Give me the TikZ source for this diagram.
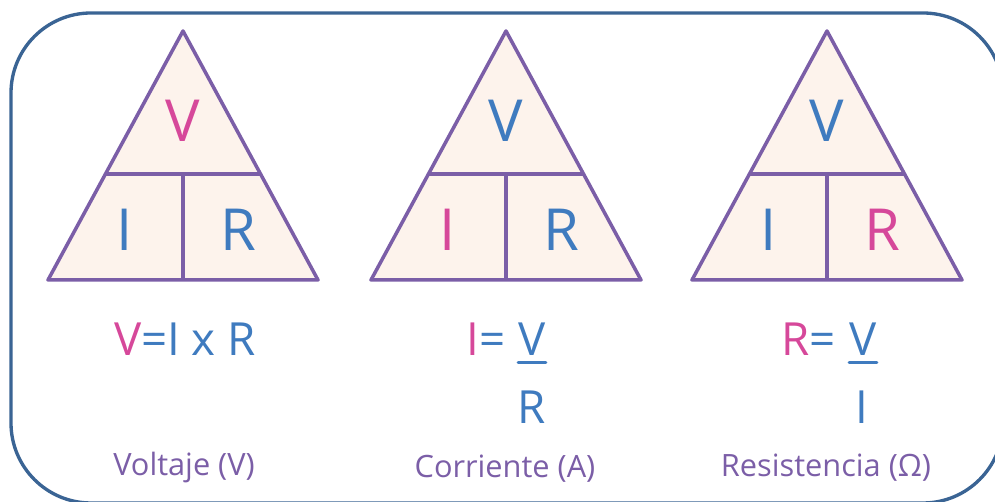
\documentclass[tikz,border=0pt]{standalone}
\usepackage{fontspec}
\setmainfont{Open Sans}

\definecolor{framecol}{HTML}{3A6494}
\definecolor{tricol}{HTML}{7B5EA7}
\definecolor{trifill}{HTML}{FDF3EC}
\definecolor{pinkcol}{HTML}{D6489A}
\definecolor{bluecol}{HTML}{3F7BBF}

\tikzset{
  triangle/.style={draw=tricol, fill=trifill, line width=2pt, line join=round},
  divider/.style={draw=tricol, line width=2pt},
  bigletter/.style={inner sep=0pt, font=\fontsize{33}{33}\selectfont},
  formula/.style={inner sep=0pt, text=bluecol, font=\fontsize{26}{26}\selectfont},
  fracbar/.style={draw=bluecol, line width=1.6pt, line cap=round},
  caption/.style={inner sep=0pt, text=tricol, font=\fontsize{17.5}{17.5}\selectfont}
}

\begin{document}
\begin{tikzpicture}[x=0.02cm, y=-0.02cm]
    \useasboundingbox (0,0) rectangle (995,502);
    \clip (0,0) rectangle (995,502);

    % Frame
    \draw[framecol, line width=1.9pt, rounded corners=1.6cm] (11,13) rectangle (1003,503);

    % Triangles
    \foreach \cx/\n/\vcol/\icol/\rcol in {183/1/pinkcol/bluecol/bluecol,
                                         506/2/bluecol/pinkcol/bluecol,
                                         827/3/bluecol/bluecol/pinkcol} {
        \draw[triangle] (\cx,31) -- (\cx+135,280) -- (\cx-135,280) -- cycle;
        \draw[divider] (\cx-78,174) -- (\cx+78,174);
        \draw[divider] (\cx,174) -- (\cx,280);
        \node[bigletter, text=\vcol] (v\n) at (\cx,121) {V};
        \node[bigletter, text=\icol] (i\n) at (\cx-58,230) {I};
        \node[bigletter, text=\rcol] (r\n) at (\cx+55,230) {R};
    }

    % V = I x R
    \node[formula] (f1) at (185,339) {{\color{pinkcol}V}=I x R};

    % I = V / R
    \node[formula] (f2num) at (532,339) {V};
    \node[formula, anchor=east] (f2lhs) at (506,339) {{\color{pinkcol}I}=};
    \node[formula] (f2den) at (532,407) {R};
    \draw[fracbar] ([yshift=-4pt]f2num.south west) -- ([yshift=-4pt]f2num.south east);

    % R = V / I
    \node[formula] (f3num) at (863,339) {V};
    \node[formula, anchor=east] (f3lhs) at (836,339) {{\color{pinkcol}R}=};
    \node[formula] (f3den) at (862,407) {I};
    \draw[fracbar] ([yshift=-4pt]f3num.south west) -- ([yshift=-4pt]f3num.south east);

    % Captions
    \node[caption] (c1) at (184,468) {Voltaje (V)};
    \node[caption] (c2) at (505,469) {Corriente (A)};
    \node[caption] (c3) at (826,468) {Resistencia (Ω)};
\end{tikzpicture}
\end{document}
